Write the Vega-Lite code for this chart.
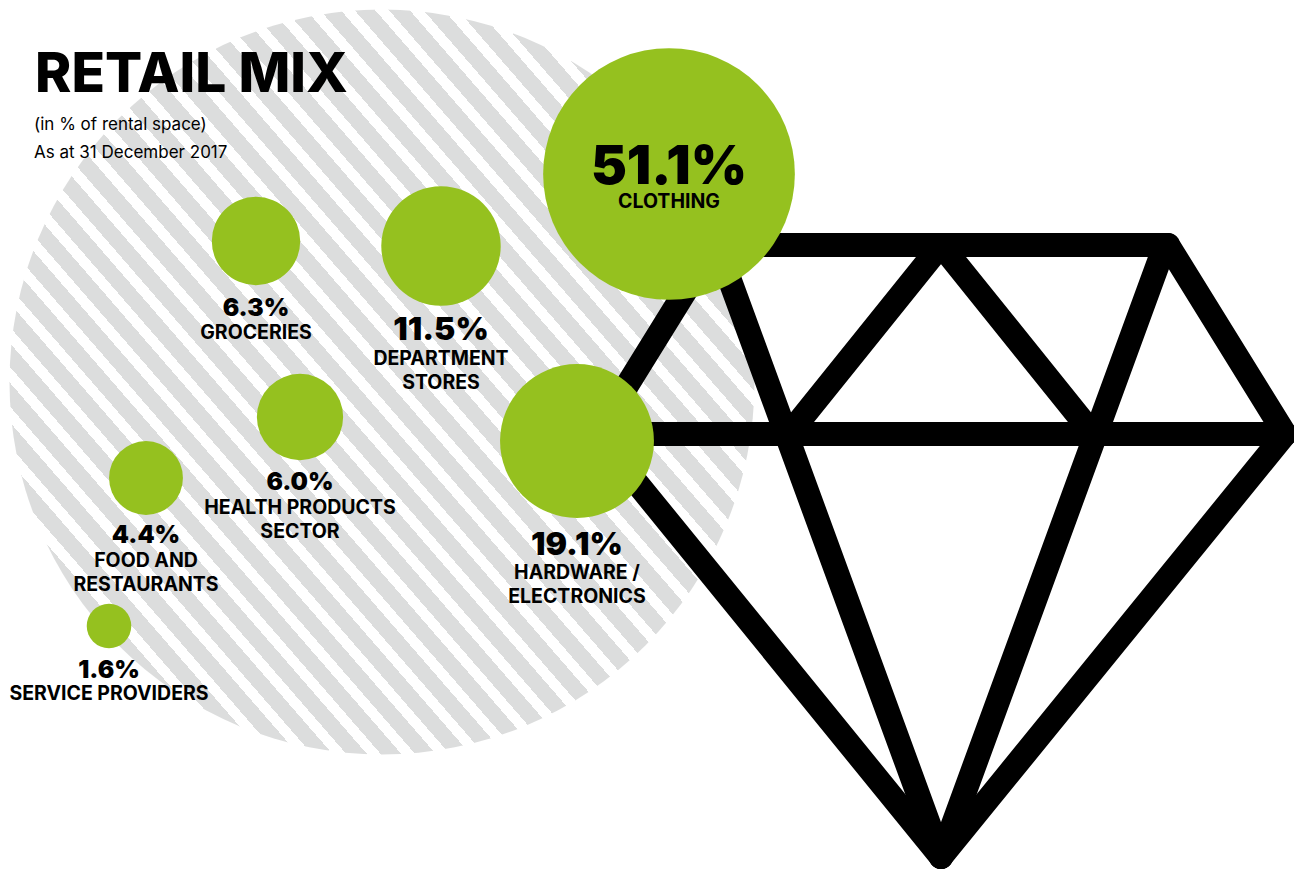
{"$schema":"https://vega.github.io/schema/vega-lite/v6.json","autosize":{"type":"none"},"width":1294,"height":870,"padding":0,"background":"#ffffff","view":{"stroke":null},
"datasets":{
"retail":[
{"category":"CLOTHING","share":0.511,"x":669,"y":174,"valueY":184,"labelY":208},
{"category":"HARDWARE /\nELECTRONICS","share":0.191,"x":577,"y":441,"valueY":555,"labelY":579},
{"category":"DEPARTMENT\nSTORES","share":0.115,"x":441,"y":246,"valueY":340,"labelY":365},
{"category":"GROCERIES","share":0.063,"x":256,"y":241,"valueY":316,"labelY":339},
{"category":"HEALTH PRODUCTS\nSECTOR","share":0.06,"x":300,"y":417,"valueY":490,"labelY":514},
{"category":"FOOD AND\nRESTAURANTS","share":0.044,"x":146,"y":478,"valueY":543,"labelY":567},
{"category":"SERVICE PROVIDERS","share":0.016,"x":109,"y":626,"valueY":678,"labelY":700}
],
"diamond":[
{"x":714,"y":245,"x2":1168,"y2":245},
{"x":597,"y":434,"x2":1285,"y2":434},
{"x":714,"y":245,"x2":597,"y2":434},
{"x":1168,"y":245,"x2":1285,"y2":434},
{"x":597,"y":434,"x2":941,"y2":857},
{"x":1285,"y":434,"x2":941,"y2":857},
{"x":717,"y":245,"x2":941,"y2":857},
{"x":1165,"y":245,"x2":941,"y2":857},
{"x":789,"y":434,"x2":941,"y2":245},
{"x":1093,"y":434,"x2":941,"y2":245}
]},
"layer":[
{"data":{"values":[{"x":382,"y":382}]},"mark":{"type":"point","filled":true,"opacity":1,"size":555025,"fill":{"gradient":"linear","x1":0.1225,"y1":0.828,"x2":0.8775,"y2":0.172,"stops":[{"offset":0,"color":"#dcdddd"},{"offset":0.01772,"color":"#dcdddd"},{"offset":0.01772,"color":"#ffffff"},
{"offset":0.03168,"color":"#ffffff"},{"offset":0.03168,"color":"#dcdddd"},{"offset":0.05262,"color":"#dcdddd"},{"offset":0.05262,"color":"#ffffff"},
{"offset":0.06658,"color":"#ffffff"},{"offset":0.06658,"color":"#dcdddd"},{"offset":0.08752,"color":"#dcdddd"},{"offset":0.08752,"color":"#ffffff"},
{"offset":0.10148,"color":"#ffffff"},{"offset":0.10148,"color":"#dcdddd"},{"offset":0.12242,"color":"#dcdddd"},{"offset":0.12242,"color":"#ffffff"},
{"offset":0.13638,"color":"#ffffff"},{"offset":0.13638,"color":"#dcdddd"},{"offset":0.15732,"color":"#dcdddd"},{"offset":0.15732,"color":"#ffffff"},
{"offset":0.17128,"color":"#ffffff"},{"offset":0.17128,"color":"#dcdddd"},{"offset":0.19222,"color":"#dcdddd"},{"offset":0.19222,"color":"#ffffff"},
{"offset":0.20617,"color":"#ffffff"},{"offset":0.20617,"color":"#dcdddd"},{"offset":0.22711,"color":"#dcdddd"},{"offset":0.22711,"color":"#ffffff"},
{"offset":0.24107,"color":"#ffffff"},{"offset":0.24107,"color":"#dcdddd"},{"offset":0.26201,"color":"#dcdddd"},{"offset":0.26201,"color":"#ffffff"},
{"offset":0.27597,"color":"#ffffff"},{"offset":0.27597,"color":"#dcdddd"},{"offset":0.29691,"color":"#dcdddd"},{"offset":0.29691,"color":"#ffffff"},
{"offset":0.31087,"color":"#ffffff"},{"offset":0.31087,"color":"#dcdddd"},{"offset":0.33181,"color":"#dcdddd"},{"offset":0.33181,"color":"#ffffff"},
{"offset":0.34577,"color":"#ffffff"},{"offset":0.34577,"color":"#dcdddd"},{"offset":0.36671,"color":"#dcdddd"},{"offset":0.36671,"color":"#ffffff"},
{"offset":0.38067,"color":"#ffffff"},{"offset":0.38067,"color":"#dcdddd"},{"offset":0.40161,"color":"#dcdddd"},{"offset":0.40161,"color":"#ffffff"},
{"offset":0.41557,"color":"#ffffff"},{"offset":0.41557,"color":"#dcdddd"},{"offset":0.43651,"color":"#dcdddd"},{"offset":0.43651,"color":"#ffffff"},
{"offset":0.45047,"color":"#ffffff"},{"offset":0.45047,"color":"#dcdddd"},{"offset":0.47141,"color":"#dcdddd"},{"offset":0.47141,"color":"#ffffff"},
{"offset":0.48537,"color":"#ffffff"},{"offset":0.48537,"color":"#dcdddd"},{"offset":0.50631,"color":"#dcdddd"},{"offset":0.50631,"color":"#ffffff"},
{"offset":0.52027,"color":"#ffffff"},{"offset":0.52027,"color":"#dcdddd"},{"offset":0.54121,"color":"#dcdddd"},{"offset":0.54121,"color":"#ffffff"},
{"offset":0.55517,"color":"#ffffff"},{"offset":0.55517,"color":"#dcdddd"},{"offset":0.57611,"color":"#dcdddd"},{"offset":0.57611,"color":"#ffffff"},
{"offset":0.59007,"color":"#ffffff"},{"offset":0.59007,"color":"#dcdddd"},{"offset":0.61101,"color":"#dcdddd"},{"offset":0.61101,"color":"#ffffff"},
{"offset":0.62496,"color":"#ffffff"},{"offset":0.62496,"color":"#dcdddd"},{"offset":0.6459,"color":"#dcdddd"},{"offset":0.6459,"color":"#ffffff"},
{"offset":0.65986,"color":"#ffffff"},{"offset":0.65986,"color":"#dcdddd"},{"offset":0.6808,"color":"#dcdddd"},{"offset":0.6808,"color":"#ffffff"},
{"offset":0.69476,"color":"#ffffff"},{"offset":0.69476,"color":"#dcdddd"},{"offset":0.7157,"color":"#dcdddd"},{"offset":0.7157,"color":"#ffffff"},
{"offset":0.72966,"color":"#ffffff"},{"offset":0.72966,"color":"#dcdddd"},{"offset":0.7506,"color":"#dcdddd"},{"offset":0.7506,"color":"#ffffff"},
{"offset":0.76456,"color":"#ffffff"},{"offset":0.76456,"color":"#dcdddd"},{"offset":0.7855,"color":"#dcdddd"},{"offset":0.7855,"color":"#ffffff"},
{"offset":0.79946,"color":"#ffffff"},{"offset":0.79946,"color":"#dcdddd"},{"offset":0.8204,"color":"#dcdddd"},{"offset":0.8204,"color":"#ffffff"},
{"offset":0.83436,"color":"#ffffff"},{"offset":0.83436,"color":"#dcdddd"},{"offset":0.8553,"color":"#dcdddd"},{"offset":0.8553,"color":"#ffffff"},
{"offset":0.86926,"color":"#ffffff"},{"offset":0.86926,"color":"#dcdddd"},{"offset":0.8902,"color":"#dcdddd"},{"offset":0.8902,"color":"#ffffff"},
{"offset":0.90416,"color":"#ffffff"},{"offset":0.90416,"color":"#dcdddd"},{"offset":0.9251,"color":"#dcdddd"},{"offset":0.9251,"color":"#ffffff"},
{"offset":0.93906,"color":"#ffffff"},{"offset":0.93906,"color":"#dcdddd"},{"offset":0.96,"color":"#dcdddd"},{"offset":0.96,"color":"#ffffff"},
{"offset":0.97396,"color":"#ffffff"},{"offset":0.97396,"color":"#dcdddd"},{"offset":0.9949,"color":"#dcdddd"},{"offset":0.9949,"color":"#ffffff"},{"offset":1,"color":"#ffffff"}]}},
"encoding":{"x":{"field":"x","type":"quantitative","scale":{"domain":[0,1294],"nice":false,"zero":false},"axis":null},"y":{"field":"y","type":"quantitative","scale":{"domain":[870,0],"nice":false,"zero":false},"axis":null}}},
{"data":{"name":"diamond"},"mark":{"type":"rule","color":"#000000","strokeWidth":24,"strokeCap":"round"},
"encoding":{"x":{"field":"x","type":"quantitative"},"y":{"field":"y","type":"quantitative"},"x2":{"field":"x2"},"y2":{"field":"y2"}}},
{"data":{"name":"retail"},"mark":{"type":"circle","color":"#95c11f","opacity":1},
"encoding":{"x":{"field":"x","type":"quantitative"},"y":{"field":"y","type":"quantitative"},"size":{"field":"share","type":"quantitative","scale":{"domain":[0,1],"range":[0,124000]},"legend":null}}},
{"data":{"name":"retail"},"mark":{"type":"text","font":"Inter","fontWeight":900,"color":"#000000","align":"center","baseline":"alphabetic"},
"encoding":{"x":{"field":"x","type":"quantitative"},"y":{"field":"valueY","type":"quantitative"},"text":{"field":"share","type":"quantitative","format":".1%"},"size":{"field":"share","type":"quantitative","scale":{"type":"threshold","domain":[0.1,0.4],"range":[24.5,32,54]},"legend":null}}},
{"data":{"name":"retail"},"mark":{"type":"text","font":"Inter","fontWeight":700,"fontSize":19.5,"color":"#000000","align":"center","baseline":"alphabetic","lineBreak":"\n","lineHeight":24},
"encoding":{"x":{"field":"x","type":"quantitative"},"y":{"field":"labelY","type":"quantitative"},"text":{"field":"category","type":"nominal"}}},
{"data":{"values":[{"text":"RETAIL MIX","x":35,"y":92}]},"mark":{"type":"text","font":"Inter","fontWeight":800,"fontSize":55,"color":"#000000","align":"left","baseline":"alphabetic"},
"encoding":{"x":{"field":"x","type":"quantitative"},"y":{"field":"y","type":"quantitative"},"text":{"field":"text","type":"nominal"}}},
{"data":{"values":[{"text":"(in % of rental space)","x":34,"y":130},{"text":"As at 31 December 2017","x":34,"y":158}]},"mark":{"type":"text","font":"Inter","fontWeight":400,"fontSize":17,"color":"#000000","align":"left","baseline":"alphabetic"},
"encoding":{"x":{"field":"x","type":"quantitative"},"y":{"field":"y","type":"quantitative"},"text":{"field":"text","type":"nominal"}}}
]}
